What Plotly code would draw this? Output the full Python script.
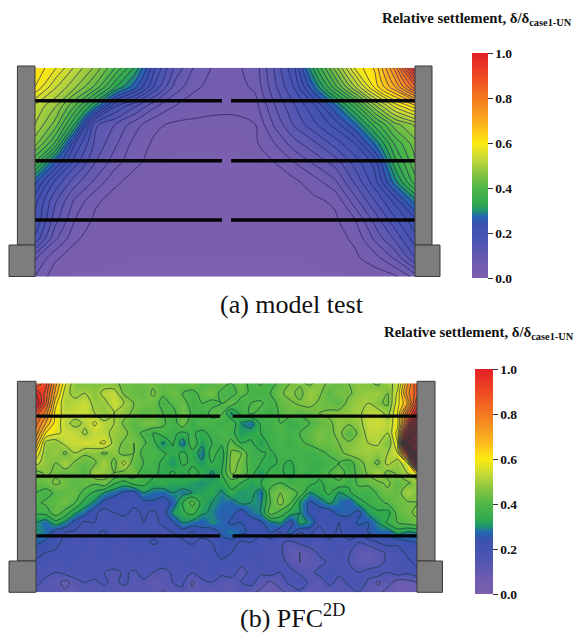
import plotly.graph_objects as go

W, H = 578, 635

colorscale = [
    [0.00, "#7d5fae"], [0.08, "#6a5cb0"], [0.16, "#4c55b2"], [0.24, "#3a52ae"],
    [0.275, "#2268b0"], [0.30, "#1f9470"], [0.33, "#2fa94e"], [0.40, "#4fb648"],
    [0.46, "#82c341"], [0.53, "#c4d93a"], [0.60, "#fdea10"], [0.68, "#fbb51f"],
    [0.78, "#f58220"], [0.88, "#ef5223"], [1.00, "#e31f26"],
]

# Panel (a) model test: relative settlement, top row first
test_z = [
    [.62,.58,.52,.47,.40,.32,.20,.12,.07,.045,.045,.06,.13,.20,.34,.46,.58,.63,.76,.95],
    [.60,.53,.48,.42,.33,.26,.17,.09,.055,.04,.04,.055,.12,.18,.28,.39,.50,.61,.70,.82],
    [.52,.48,.40,.30,.18,.13,.08,.05,.035,.03,.03,.04,.10,.15,.20,.27,.36,.47,.56,.62],
    [.50,.44,.32,.13,.10,.06,.03,.02,.02,.02,.02,.024,.08,.13,.17,.21,.27,.36,.44,.48],
    [.46,.37,.20,.12,.08,.04,.02,.015,.015,.015,.015,.02,.05,.09,.12,.16,.20,.28,.38,.44],
    [.37,.25,.16,.10,.06,.03,.015,.01,.01,.01,.01,.01,.025,.05,.08,.11,.16,.21,.34,.42],
    [.26,.17,.11,.07,.03,.015,.01,.01,.01,.01,.01,.01,.01,.02,.04,.07,.13,.19,.29,.39],
    [.21,.13,.07,.03,.015,.01,.01,.01,.01,.01,.01,.01,.01,.01,.02,.03,.09,.15,.21,.29],
    [.20,.11,.05,.02,.01,.01,.01,.01,.01,.01,.01,.01,.01,.01,.01,.02,.05,.11,.17,.22],
    [.17,.08,.03,.01,.01,.01,.01,.01,.01,.01,.01,.01,.01,.01,.01,.015,.03,.08,.13,.19],
    [.08,.03,.01,.01,.01,.005,.005,.005,.005,.005,.005,.005,.005,.005,.01,.01,.02,.04,.08,.15],
    [.05,.01,.005,.005,0,0,0,0,0,0,0,0,0,0,0,.005,.005,.01,.02,.06],
]

# Panel (b) PFC2D: relative settlement, top row first
pfc_z = [
    [.85,.92,.72,.56,.46,.46,.46,.47,.46,.44,.43,.43,.44,.42,.42,.42,.44,.40,.41,.43,.40,.43,.38,.41,.37,.42,.45,.46,.44,.47,.44,.43,.45,.47,.46,.44,.48,.52,.74,.90],
    [1.0,.88,.68,.52,.48,.50,.47,.52,.53,.44,.43,.42,.46,.41,.44,.40,.38,.42,.44,.38,.38,.42,.39,.37,.40,.44,.47,.43,.49,.46,.41,.45,.44,.47,.48,.49,.45,.56,.78,.88],
    [1.05,.86,.62,.50,.52,.54,.48,.48,.54,.50,.45,.44,.43,.38,.41,.43,.37,.40,.38,.40,.43,.37,.40,.41,.37,.42,.44,.46,.47,.44,.43,.41,.47,.49,.50,.46,.44,.58,.70,.95],
    [.88,.78,.58,.53,.53,.54,.50,.47,.50,.47,.44,.41,.42,.40,.38,.44,.39,.36,.42,.41,.29,.37,.41,.38,.36,.41,.43,.41,.42,.45,.46,.47,.48,.49,.52,.53,.48,.60,.85,1.05],
    [.82,.70,.58,.52,.48,.51,.56,.51,.50,.44,.41,.44,.45,.41,.37,.44,.35,.40,.38,.36,.39,.30,.27,.36,.37,.40,.35,.38,.40,.42,.44,.47,.46,.48,.53,.54,.52,.58,.90,1.4],
    [.78,.60,.56,.54,.53,.49,.53,.52,.48,.47,.42,.39,.35,.38,.36,.34,.36,.33,.37,.39,.37,.31,.33,.35,.36,.39,.37,.40,.42,.45,.43,.47,.40,.46,.52,.52,.50,.62,1.1,1.7],
    [.70,.48,.47,.52,.54,.55,.54,.56,.48,.44,.45,.41,.37,.29,.36,.27,.39,.31,.35,.36,.42,.35,.36,.31,.37,.38,.36,.39,.41,.44,.43,.45,.46,.48,.50,.51,.45,.60,1.4,2.0],
    [.60,.46,.48,.44,.50,.46,.47,.44,.47,.43,.45,.38,.39,.36,.33,.36,.33,.28,.38,.32,.46,.45,.36,.36,.34,.37,.38,.37,.36,.38,.41,.43,.47,.48,.49,.47,.50,.55,.95,1.7],
    [.52,.47,.45,.50,.44,.42,.44,.50,.43,.52,.42,.40,.37,.34,.30,.36,.34,.31,.35,.33,.47,.44,.37,.35,.33,.36,.34,.38,.36,.35,.38,.40,.37,.43,.47,.44,.52,.47,.55,1.2],
    [.43,.46,.44,.42,.43,.40,.50,.47,.45,.43,.44,.36,.37,.33,.36,.32,.37,.34,.29,.35,.46,.43,.38,.30,.37,.36,.33,.38,.35,.37,.40,.43,.38,.41,.46,.50,.43,.46,.50,.56],
    [.42,.43,.46,.44,.41,.43,.41,.44,.36,.33,.37,.37,.33,.34,.32,.33,.31,.30,.32,.33,.37,.35,.31,.35,.38,.40,.37,.38,.37,.34,.37,.39,.36,.41,.42,.44,.46,.42,.44,.47],
    [.40,.38,.41,.42,.43,.38,.34,.30,.27,.24,.23,.30,.28,.27,.30,.28,.30,.32,.33,.29,.34,.30,.32,.27,.42,.45,.43,.39,.30,.33,.36,.30,.34,.38,.36,.41,.44,.42,.50,.46],
    [.39,.41,.42,.44,.40,.33,.29,.23,.21,.20,.22,.23,.24,.22,.26,.35,.42,.33,.30,.28,.27,.31,.30,.29,.40,.47,.41,.30,.24,.27,.31,.28,.25,.32,.36,.38,.41,.43,.44,.45],
    [.36,.37,.43,.38,.31,.27,.21,.18,.20,.22,.18,.21,.19,.22,.31,.34,.37,.31,.29,.26,.27,.22,.28,.30,.43,.38,.33,.30,.24,.22,.22,.27,.27,.23,.31,.34,.33,.42,.44,.46],
    [.30,.27,.33,.29,.23,.19,.20,.17,.19,.16,.19,.20,.17,.22,.24,.30,.28,.26,.30,.27,.24,.25,.21,.24,.28,.31,.22,.32,.29,.21,.24,.20,.21,.26,.25,.30,.36,.40,.42,.44],
    [.30,.28,.22,.20,.19,.17,.19,.21,.16,.19,.17,.20,.18,.16,.20,.22,.19,.24,.21,.26,.29,.26,.24,.21,.25,.19,.27,.20,.21,.18,.22,.19,.23,.22,.25,.27,.26,.32,.29,.30],
    [.26,.24,.22,.18,.17,.20,.16,.18,.19,.17,.20,.18,.21,.19,.17,.19,.21,.17,.20,.23,.23,.19,.20,.18,.17,.16,.13,.16,.18,.16,.19,.17,.19,.15,.17,.20,.22,.21,.24,.25],
    [.22,.20,.19,.17,.19,.16,.18,.20,.15,.18,.17,.19,.16,.20,.18,.20,.16,.19,.17,.24,.20,.18,.19,.17,.15,.16,.11,.10,.12,.16,.17,.18,.16,.11,.10,.13,.16,.18,.21,.20],
    [.19,.18,.17,.19,.16,.18,.15,.17,.19,.16,.18,.15,.17,.19,.16,.17,.19,.16,.20,.18,.19,.17,.15,.19,.17,.18,.13,.10,.11,.13,.16,.18,.15,.12,.11,.12,.17,.16,.19,.21],
    [.18,.16,.15,.17,.18,.16,.17,.15,.13,.16,.14,.17,.15,.12,.16,.18,.15,.17,.19,.16,.18,.12,.17,.16,.18,.15,.17,.14,.13,.17,.19,.16,.18,.15,.17,.19,.15,.18,.16,.19],
    [.16,.14,.12,.08,.13,.15,.14,.16,.13,.17,.12,.14,.10,.13,.15,.16,.09,.14,.15,.13,.12,.15,.17,.12,.09,.13,.16,.18,.14,.11,.17,.13,.16,.19,.14,.09,.13,.07,.08,.10],
    [.14,.12,.13,.11,.10,.14,.12,.13,.14,.10,.13,.12,.14,.09,.12,.14,.11,.13,.10,.12,.10,.14,.11,.09,.07,.08,.12,.14,.10,.13,.11,.14,.12,.15,.10,.12,.07,.05,.06,.07],
]

# Reinforcement layers: height above base (fraction of backfill height) and gap edges
test_layers = [.842, .555, .271]
test_gap = [.492, .516]
pfc_layers = [.843, .556, .270]
pfc_gap = [.483, .516]

colorbar_ticks = [0.0, 0.2, 0.4, 0.6, 0.8, 1.0]
colorbar_title = "Relative settlement, δ/δ<sub>case1-UN</sub>"
caption_a = "(a) model test"
caption_b = "(b) PFC<sup>2D</sup>"

SERIF = "Liberation Serif"


def fx(px):
    return px / W


def fy(py):
    return 1 - py / H


def frange(n):
    return [i / (n - 1) for i in range(n)]


def add_panel(fig, z, layers, gap, xa, ya, cbar, start, size, line_color, line_w):
    xs = frange(len(z[0]))
    ys = frange(len(z))[::-1]
    fig.add_trace(go.Heatmap(
        z=z, x=xs, y=ys, zmin=0, zmax=1, zsmooth="best", colorscale=colorscale,
        xaxis=xa, yaxis=ya, hoverinfo="skip", showscale=True,
        colorbar=dict(
            x=fx(cbar[0]), xanchor="left", y=fy(cbar[3]), yanchor="bottom",
            thicknessmode="pixels", thickness=cbar[1] - cbar[0],
            lenmode="pixels", len=cbar[3] - cbar[2],
            xpad=0, ypad=0, outlinewidth=0, borderwidth=0,
            tickmode="array", tickvals=colorbar_ticks,
            ticktext=[f"<b>{t:.1f}</b>" for t in colorbar_ticks],
            ticks="outside", ticklen=5, tickwidth=1, tickcolor="#333",
            tickfont=dict(family=SERIF, size=13.5, color="#111"),
        ),
    ))
    fig.add_trace(go.Contour(
        z=z, x=xs, y=ys, xaxis=xa, yaxis=ya, showscale=False, hoverinfo="skip",
        autocontour=False, contours=dict(coloring="none", start=start, end=3, size=size),
        line=dict(color=line_color, width=line_w, smoothing=0.9),
    ))
    lx, ly = [], []
    for h in layers:
        lx += [0, gap[0], None, gap[1], 1, None]
        ly += [h, h, None, h, h, None]
    fig.add_trace(go.Scatter(
        x=lx, y=ly, mode="lines", xaxis=xa, yaxis=ya, hoverinfo="skip", showlegend=False,
        line=dict(color="#050505", width=3.4),
    ))


fig = go.Figure()
add_panel(fig, test_z, test_layers, test_gap, "x", "y", (471.6, 488, 53.3, 278), .025, .025, "#25205f", .7)
add_panel(fig, pfc_z, pfc_layers, pfc_gap, "x2", "y2", (475, 492.6, 369.3, 594), .05, .05, "#123c40", .7)

axis_off = dict(visible=False, range=[0, 1], fixedrange=True)
fig.update_layout(
    width=W, height=H, margin=dict(l=0, r=0, t=0, b=0),
    paper_bgcolor="white", plot_bgcolor="white", showlegend=False,
    xaxis=dict(axis_off, domain=[fx(35), fx(415)]),
    yaxis=dict(axis_off, domain=[fy(276.7), fy(67.7)]),
    xaxis2=dict(axis_off, domain=[fx(36), fx(417)]),
    yaxis2=dict(axis_off, domain=[fy(592.3), fy(383.3)]),
)

shapes = []
for (x0, x1, y0, y1) in [
    (17.4, 35, 66, 245), (9, 35, 245, 276.5), (415, 432, 66, 245), (415, 440, 245, 276.5),
    (17.4, 36, 381.3, 561), (9, 36, 561, 592.3), (417, 435, 381.3, 561), (417, 442.5, 561, 592.3),
]:
    shapes.append(dict(type="rect", xref="paper", yref="paper", x0=fx(x0), x1=fx(x1), y0=fy(y1), y1=fy(y0),
                       fillcolor="#7d7d7d", line=dict(color="#3a3a3a", width=1)))
fig.update_layout(shapes=shapes)

notes = [
    (380, 19, colorbar_title, 14.8, "left", True),
    (382, 333, colorbar_title, 14.8, "left", True),
    (292, 304, caption_a, 26, "center", False),
    (292, 616, caption_b, 26, "center", False),
]
annotations = []
for (x, y, text, size, anchor, bold) in notes:
    annotations.append(dict(
        xref="paper", yref="paper", x=fx(x), y=fy(y), xanchor=anchor, yanchor="middle", showarrow=False,
        text=f"<b>{text}</b>" if bold else text, align=anchor,
        font=dict(family=SERIF, size=size, color="#111"),
    ))
fig.update_layout(annotations=annotations)

fig.write_html("out.html", config={"displayModeBar": False}, post_script="document.body.style.margin='0';")
